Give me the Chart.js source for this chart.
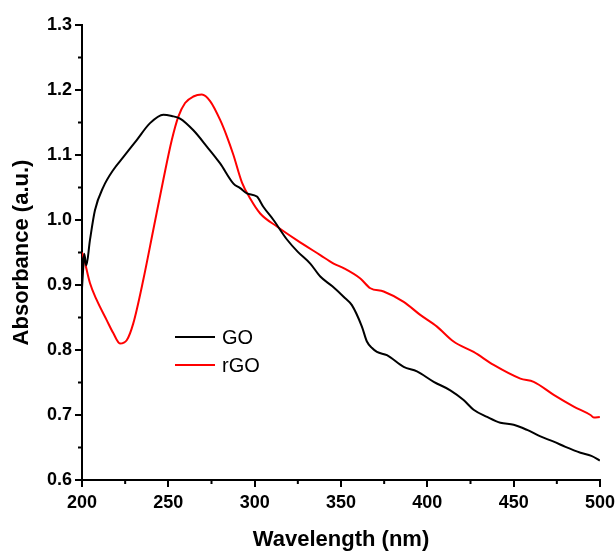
<!DOCTYPE html>
<html>
<head>
<meta charset="utf-8">
<script src="https://cdn.jsdelivr.net/npm/chart.js@4"></script>
<style>
  html, body { margin: 0; padding: 0; background: #fff; }
  canvas { display: block; }
</style>
</head>
<body>
<canvas id="uvChart" width="616" height="553"></canvas>
<script>
// GO spectrum (black)
const goWavelength = [200, 200.8, 201.3, 202.5, 204.6, 207.5, 212.4, 218.1, 224, 231.7, 239.4, 247.1, 252, 256.8, 264.5, 272.3, 280, 287.7, 291.6, 295.5, 301.3, 305.1, 310.9, 318.7, 325, 332.2, 338, 345, 351.5, 356.3, 362.1, 365, 368, 370.8, 376.6, 386.3, 394, 403.7, 413.3, 421, 426.8, 434.6, 442.3, 450, 457.8, 465.5, 473.2, 480, 488.7, 495, 499.9];
const goAbs = [0.895, 0.930, 0.948, 0.930, 0.969, 1.015, 1.051, 1.077, 1.097, 1.123, 1.149, 1.162, 1.160, 1.156, 1.138, 1.113, 1.087, 1.056, 1.049, 1.041, 1.036, 1.020, 1.000, 0.970, 0.951, 0.933, 0.913, 0.898, 0.882, 0.869, 0.836, 0.813, 0.803, 0.797, 0.792, 0.774, 0.767, 0.751, 0.738, 0.723, 0.708, 0.697, 0.688, 0.685, 0.677, 0.667, 0.659, 0.651, 0.642, 0.637, 0.630];

// rGO spectrum (red)
const rgoWavelength = [200, 200.8, 204.6, 208.5, 214.3, 218.1, 222, 225.9, 229.7, 235.5, 241.3, 247.1, 252, 255.8, 259.7, 264.5, 269.4, 274.2, 280, 284, 287.7, 292.6, 297.4, 303.2, 312.9, 324.4, 338, 345.7, 351.5, 361.2, 367, 374.7, 386.3, 395.9, 405.6, 415.2, 426.8, 438.4, 453.9, 461.6, 473.2, 484.8, 494.5, 496.4, 499.9];
const rgoAbs = [0.950, 0.944, 0.903, 0.877, 0.846, 0.826, 0.810, 0.815, 0.841, 0.908, 0.985, 1.062, 1.123, 1.159, 1.180, 1.190, 1.193, 1.183, 1.154, 1.128, 1.100, 1.058, 1.033, 1.010, 0.990, 0.969, 0.946, 0.933, 0.926, 0.910, 0.895, 0.890, 0.874, 0.854, 0.836, 0.813, 0.797, 0.777, 0.756, 0.751, 0.731, 0.713, 0.700, 0.696, 0.697];

const xTicks = [200, 250, 300, 350, 400, 450, 500];
const yTicks = [0.6, 0.7, 0.8, 0.9, 1.0, 1.1, 1.2, 1.3];

const toPoints = (xs, ys) => xs.map((x, i) => ({ x: x, y: ys[i] }));

// small minor ticks halfway between the labelled ones
const minorTicks = {
    id: "minorTicks",
    afterDraw(chart) {
        const ctx = chart.ctx;
        const xs = chart.scales.x;
        const ys = chart.scales.y;
        ctx.save();
        ctx.strokeStyle = "#000";
        ctx.lineWidth = 2;
        ctx.beginPath();
        for (let i = 0; i < xTicks.length - 1; i++) {
            const px = xs.getPixelForValue((xTicks[i] + xTicks[i + 1]) / 2);
            ctx.moveTo(px, chart.chartArea.bottom);
            ctx.lineTo(px, chart.chartArea.bottom + 4);
        }
        for (let i = 0; i < yTicks.length - 1; i++) {
            const py = ys.getPixelForValue((yTicks[i] + yTicks[i + 1]) / 2);
            ctx.moveTo(chart.chartArea.left, py);
            ctx.lineTo(chart.chartArea.left - 4, py);
        }
        ctx.stroke();
        ctx.restore();
    },
};

// legend sits inside the plot
const innerLegend = {
    id: "innerLegend",
    afterDraw(chart) {
        const ctx = chart.ctx;
        const left = chart.chartArea.left + 93;
        let y = chart.chartArea.top + 312;
        ctx.save();
        ctx.font = "20px 'Liberation Sans', Arial, sans-serif";
        ctx.textBaseline = "middle";
        chart.data.datasets.forEach((ds) => {
            ctx.strokeStyle = ds.borderColor;
            ctx.lineWidth = 2;
            ctx.beginPath();
            ctx.moveTo(left, y);
            ctx.lineTo(left + 40, y);
            ctx.stroke();
            ctx.fillStyle = "#000";
            ctx.fillText(ds.label, left + 47, y + 1);
            y += 28;
        });
        ctx.restore();
    },
};

const tickFont = { family: "'Liberation Sans', Arial, sans-serif", size: 18, weight: "bold" };
const titleFont = { family: "'Liberation Sans', Arial, sans-serif", size: 22, weight: "bold" };

new Chart(document.getElementById("uvChart"), {
    type: "line",
    data: {
        datasets: [
            {
                label: "GO",
                data: toPoints(goWavelength, goAbs),
                borderColor: "#000000",
                borderWidth: 2,
                pointRadius: 0,
                cubicInterpolationMode: "monotone",
            },
            {
                label: "rGO",
                data: toPoints(rgoWavelength, rgoAbs),
                borderColor: "#ff0000",
                borderWidth: 2,
                pointRadius: 0,
                cubicInterpolationMode: "monotone",
            },
        ],
    },
    options: {
        responsive: false,
        animation: false,
        layout: { padding: { top: 25, right: 16, left: 0, bottom: 0 } },
        plugins: {
            legend: { display: false },
            tooltip: { enabled: false },
        },
        scales: {
            x: {
                type: "linear",
                min: 200,
                max: 500,
                afterBuildTicks: (scale) => {
                    scale.ticks = xTicks.map((v) => ({ value: v }));
                },
                afterFit: (scale) => {
                    scale.height = 73;
                    scale.paddingLeft = 0;
                    scale.paddingRight = 0;
                },
                border: { display: true, color: "#000", width: 2 },
                grid: { drawOnChartArea: false, drawTicks: true, tickLength: 7, color: "#000", lineWidth: 2 },
                ticks: { color: "#000", font: tickFont, padding: 5, maxRotation: 0 },
                title: { display: true, text: "Wavelength (nm)", color: "#000", font: titleFont, padding: { top: 0, bottom: 0 } },
            },
            y: {
                type: "linear",
                min: 0.6,
                max: 1.3,
                afterBuildTicks: (scale) => {
                    scale.ticks = yTicks.map((v) => ({ value: v }));
                },
                afterFit: (scale) => {
                    scale.width = 82;
                    scale.paddingTop = 0;
                    scale.paddingBottom = 0;
                },
                border: { display: true, color: "#000", width: 2 },
                grid: { drawOnChartArea: false, drawTicks: true, tickLength: 7, color: "#000", lineWidth: 2 },
                ticks: {
                    color: "#000",
                    font: tickFont,
                    padding: 3,
                    callback: (v) => v.toFixed(1),
                },
                title: { display: true, text: "Absorbance (a.u.)", color: "#000", font: titleFont, padding: { top: 9, bottom: 0 } },
            },
        },
    },
    plugins: [minorTicks, innerLegend],
});
</script>
</body>
</html>
